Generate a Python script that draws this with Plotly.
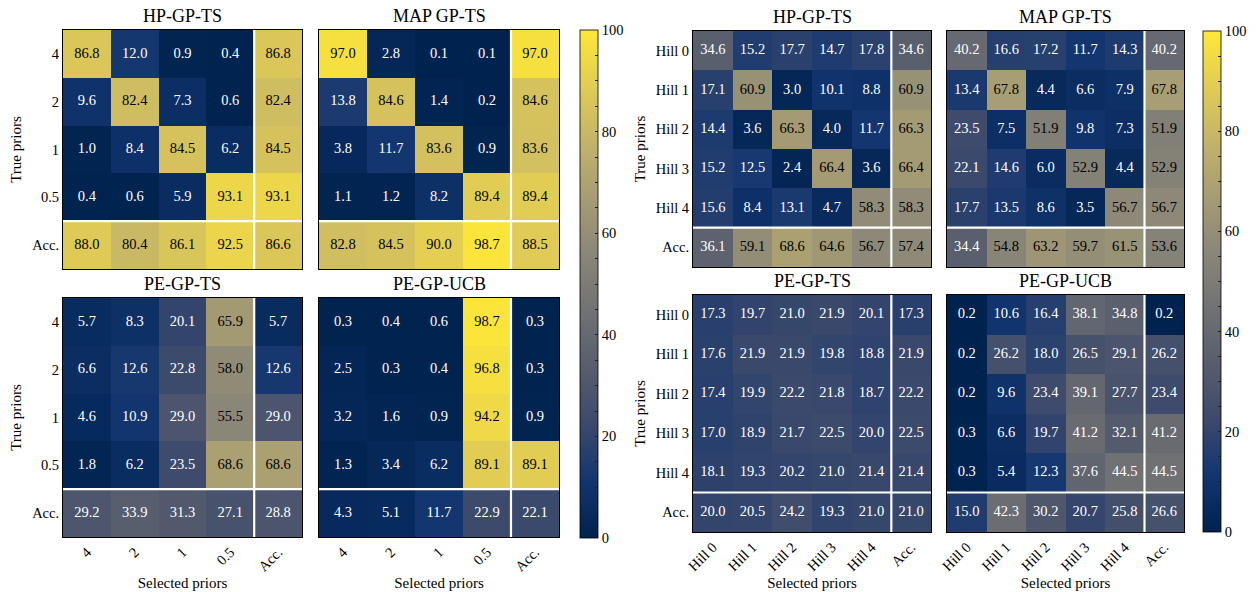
import plotly.graph_objects as go

# ---------------- data ----------------
prior_cats = ["4", "2", "1", "0.5", "Acc."]
hill_cats = ["Hill 0", "Hill 1", "Hill 2", "Hill 3", "Hill 4", "Acc."]

titles_left = ["HP-GP-TS", "MAP GP-TS", "PE-GP-TS", "PE-GP-UCB"]
titles_right = ["HP-GP-TS", "MAP GP-TS", "PE-GP-TS", "PE-GP-UCB"]

hp_ts_left = [
    [86.8, 12.0, 0.9, 0.4, 86.8],
    [9.6, 82.4, 7.3, 0.6, 82.4],
    [1.0, 8.4, 84.5, 6.2, 84.5],
    [0.4, 0.6, 5.9, 93.1, 93.1],
    [88.0, 80.4, 86.1, 92.5, 86.6],
]
map_ts_left = [
    [97.0, 2.8, 0.1, 0.1, 97.0],
    [13.8, 84.6, 1.4, 0.2, 84.6],
    [3.8, 11.7, 83.6, 0.9, 83.6],
    [1.1, 1.2, 8.2, 89.4, 89.4],
    [82.8, 84.5, 90.0, 98.7, 88.5],
]
pe_ts_left = [
    [5.7, 8.3, 20.1, 65.9, 5.7],
    [6.6, 12.6, 22.8, 58.0, 12.6],
    [4.6, 10.9, 29.0, 55.5, 29.0],
    [1.8, 6.2, 23.5, 68.6, 68.6],
    [29.2, 33.9, 31.3, 27.1, 28.8],
]
pe_ucb_left = [
    [0.3, 0.4, 0.6, 98.7, 0.3],
    [2.5, 0.3, 0.4, 96.8, 0.3],
    [3.2, 1.6, 0.9, 94.2, 0.9],
    [1.3, 3.4, 6.2, 89.1, 89.1],
    [4.3, 5.1, 11.7, 22.9, 22.1],
]
hp_ts_right = [
    [34.6, 15.2, 17.7, 14.7, 17.8, 34.6],
    [17.1, 60.9, 3.0, 10.1, 8.8, 60.9],
    [14.4, 3.6, 66.3, 4.0, 11.7, 66.3],
    [15.2, 12.5, 2.4, 66.4, 3.6, 66.4],
    [15.6, 8.4, 13.1, 4.7, 58.3, 58.3],
    [36.1, 59.1, 68.6, 64.6, 56.7, 57.4],
]
map_ts_right = [
    [40.2, 16.6, 17.2, 11.7, 14.3, 40.2],
    [13.4, 67.8, 4.4, 6.6, 7.9, 67.8],
    [23.5, 7.5, 51.9, 9.8, 7.3, 51.9],
    [22.1, 14.6, 6.0, 52.9, 4.4, 52.9],
    [17.7, 13.5, 8.6, 3.5, 56.7, 56.7],
    [34.4, 54.8, 63.2, 59.7, 61.5, 53.6],
]
pe_ts_right = [
    [17.3, 19.7, 21.0, 21.9, 20.1, 17.3],
    [17.6, 21.9, 21.9, 19.8, 18.8, 21.9],
    [17.4, 19.9, 22.2, 21.8, 18.7, 22.2],
    [17.0, 18.9, 21.7, 22.5, 20.0, 22.5],
    [18.1, 19.3, 20.2, 21.0, 21.4, 21.4],
    [20.0, 20.5, 24.2, 19.3, 21.0, 21.0],
]
pe_ucb_right = [
    [0.2, 10.6, 16.4, 38.1, 34.8, 0.2],
    [0.2, 26.2, 18.0, 26.5, 29.1, 26.2],
    [0.2, 9.6, 23.4, 39.1, 27.7, 23.4],
    [0.3, 6.6, 19.7, 41.2, 32.1, 41.2],
    [0.3, 5.4, 12.3, 37.6, 44.5, 44.5],
    [15.0, 42.3, 30.2, 20.7, 25.8, 26.6],
]

colorbar_ticks = [0, 5, 10, 15, 20, 25, 30, 35, 40, 45, 50,
                  55, 60, 65, 70, 75, 80, 85, 90, 95, 100]

# ---------------- layout geometry (pixels) ----------------
W, H = 1256, 592
FONT = "Liberation Serif"

# (matrix, cats, title, x0, x1, y0, y1, show_y, show_x, coloraxis)
panels = [
    (hp_ts_left, prior_cats, titles_left[0], 63, 302, 30, 269, True, False, "coloraxis"),
    (map_ts_left, prior_cats, titles_left[1], 319, 559, 30, 269, False, False, "coloraxis"),
    (pe_ts_left, prior_cats, titles_left[2], 63, 302, 298, 537, True, True, "coloraxis"),
    (pe_ucb_left, prior_cats, titles_left[3], 319, 559, 298, 537, False, True, "coloraxis"),
    (hp_ts_right, hill_cats, titles_right[0], 693, 931, 31, 267, True, False, "coloraxis2"),
    (map_ts_right, hill_cats, titles_right[1], 947, 1184, 31, 267, False, False, "coloraxis2"),
    (pe_ts_right, hill_cats, titles_right[2], 693, 931, 295, 532, True, True, "coloraxis2"),
    (pe_ucb_right, hill_cats, titles_right[3], 947, 1184, 295, 532, False, True, "coloraxis2"),
]

fig = go.Figure()
layout = {}
annotations = []
shapes = []

for i, (mat, cats, title, x0, x1, y0, y1, show_y, show_x, cax) in enumerate(panels, start=1):
    xa = "x" if i == 1 else f"x{i}"
    ya = "y" if i == 1 else f"y{i}"
    fig.add_trace(go.Heatmap(
        z=mat, x=cats, y=cats, coloraxis=cax, xaxis=xa, yaxis=ya,
        hoverinfo="skip",
    ))
    # cell values as text (white on dark cells, black on bright cells)
    for dark in (True, False):
        xs, ys, ts = [], [], []
        for r, row in enumerate(mat):
            for c, v in enumerate(row):
                if (v < 50) == dark:
                    xs.append(cats[c]); ys.append(cats[r]); ts.append(f"{v:.1f}")
        fig.add_trace(go.Scatter(
            x=xs, y=ys, text=ts, mode="text", xaxis=xa, yaxis=ya,
            textfont=dict(family=FONT, size=14.5, color="white" if dark else "black"),
            showlegend=False, hoverinfo="skip",
        ))
    n = len(cats)
    xkey = "xaxis" if i == 1 else f"xaxis{i}"
    ykey = "yaxis" if i == 1 else f"yaxis{i}"
    layout[xkey] = dict(
        domain=[x0 / W, x1 / W], anchor=ya, type="category",
        categoryorder="array", categoryarray=cats, automargin=False,
        showticklabels=show_x, tickangle=-45, ticks="",
        showline=True, mirror=True, linecolor="black", linewidth=1,
        showgrid=False, zeroline=False, range=[-0.5, n - 0.5],
        tickfont=dict(family=FONT, size=14.5, color="black"),
        title=dict(text="Selected priors" if show_x else "",
                   font=dict(family=FONT, size=15, color="black"), standoff=4),
    )
    layout[ykey] = dict(
        domain=[1 - y1 / H, 1 - y0 / H], anchor=xa, type="category",
        categoryorder="array", categoryarray=cats, automargin=False,
        showticklabels=show_y, ticks="",
        showline=True, mirror=True, linecolor="black", linewidth=1,
        showgrid=False, zeroline=False, range=[n - 0.5, -0.5],
        tickfont=dict(family=FONT, size=14.5, color="black"),
        title=dict(text="True priors" if show_y else "",
                   font=dict(family=FONT, size=15, color="black"), standoff=6),
    )
    # white separators before the Acc. row and column
    shapes.append(dict(type="line", xref=xa, yref=ya, x0=n - 1.5, x1=n - 1.5,
                       y0=-0.5, y1=n - 0.5, line=dict(color="white", width=2.2)))
    shapes.append(dict(type="line", xref=xa, yref=ya, y0=n - 1.5, y1=n - 1.5,
                       x0=-0.5, x1=n - 0.5, line=dict(color="white", width=2.2)))
    annotations.append(dict(
        text=title, xref="paper", yref="paper",
        x=(x0 + x1) / 2 / W, y=1 - y0 / H, xanchor="center", yanchor="bottom",
        yshift=2, showarrow=False,
        font=dict(family=FONT, size=18, color="black", weight="normal"),
    ))

cbar_common = dict(
    thickness=18, thicknessmode="pixels", lenmode="fraction",
    xanchor="left", yanchor="top", outlinewidth=0.8, outlinecolor="black",
    ticks="inside", ticklen=3, tickcolor="#222", xpad=0, ypad=0,
    tickvals=colorbar_ticks,
    ticktext=[str(t) if t % 20 == 0 else "" for t in colorbar_ticks],
    tickfont=dict(family=FONT, size=14.5, color="black"),
)

layout["coloraxis"] = dict(
    colorscale="Cividis", cmin=0, cmax=100,
    colorbar=dict(x=580 / W, y=1 - 30 / H, len=(538 - 30) / H, **cbar_common),
)
layout["coloraxis2"] = dict(
    colorscale="Cividis", cmin=0, cmax=100,
    colorbar=dict(x=1203 / W, y=1 - 31 / H, len=(532 - 31) / H, **cbar_common),
)

fig.update_layout(
    width=W, height=H, margin=dict(l=0, r=0, t=0, b=0, autoexpand=False),
    paper_bgcolor="white", plot_bgcolor="white",
    showlegend=False, annotations=annotations, shapes=shapes,
    font=dict(family=FONT, color="black"),
    hovermode=False,
    **layout,
)

fig.write_html(
    "out.html",
    config={"displayModeBar": False, "staticPlot": True},
    post_script="document.body.style.margin='0';document.body.style.overflow='hidden';",
)
